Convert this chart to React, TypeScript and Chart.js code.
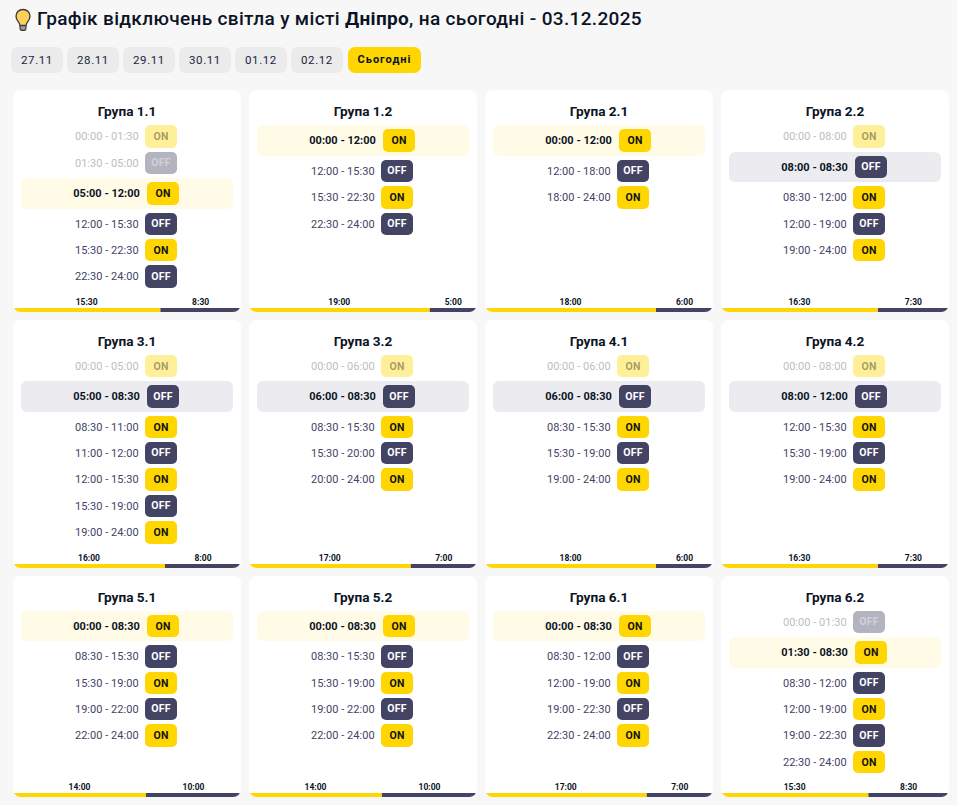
import React, { useEffect, useRef } from "react";
import { Chart, registerables } from "chart.js";
Chart.register(...registerables);

const pageTitleBefore = "Графік відключень світла у місті ";
const pageCity = "Дніпро";
const pageTitleAfter = ", на сьогодні - 03.12.2025";
const dateTabs = ["27.11", "28.11", "29.11", "30.11", "01.12", "02.12"];
const todayTab = "Сьогодні";

const groupNames = ["Група 1.1","Група 1.2","Група 2.1","Група 2.2","Група 3.1","Група 3.2","Група 4.1","Група 4.2","Група 5.1","Група 5.2","Група 6.1","Група 6.2"];
const rowTimes = [
  ["00:00 - 01:30","01:30 - 05:00","05:00 - 12:00","12:00 - 15:30","15:30 - 22:30","22:30 - 24:00"],
  ["00:00 - 12:00","12:00 - 15:30","15:30 - 22:30","22:30 - 24:00"],
  ["00:00 - 12:00","12:00 - 18:00","18:00 - 24:00"],
  ["00:00 - 08:00","08:00 - 08:30","08:30 - 12:00","12:00 - 19:00","19:00 - 24:00"],
  ["00:00 - 05:00","05:00 - 08:30","08:30 - 11:00","11:00 - 12:00","12:00 - 15:30","15:30 - 19:00","19:00 - 24:00"],
  ["00:00 - 06:00","06:00 - 08:30","08:30 - 15:30","15:30 - 20:00","20:00 - 24:00"],
  ["00:00 - 06:00","06:00 - 08:30","08:30 - 15:30","15:30 - 19:00","19:00 - 24:00"],
  ["00:00 - 08:00","08:00 - 12:00","12:00 - 15:30","15:30 - 19:00","19:00 - 24:00"],
  ["00:00 - 08:30","08:30 - 15:30","15:30 - 19:00","19:00 - 22:00","22:00 - 24:00"],
  ["00:00 - 08:30","08:30 - 15:30","15:30 - 19:00","19:00 - 22:00","22:00 - 24:00"],
  ["00:00 - 08:30","08:30 - 12:00","12:00 - 19:00","19:00 - 22:30","22:30 - 24:00"],
  ["00:00 - 01:30","01:30 - 08:30","08:30 - 12:00","12:00 - 19:00","19:00 - 22:30","22:30 - 24:00"],
];
const rowStates = [
  ["ON","OFF","ON","OFF","ON","OFF"],
  ["ON","OFF","ON","OFF"],
  ["ON","OFF","ON"],
  ["ON","OFF","ON","OFF","ON"],
  ["ON","OFF","ON","OFF","ON","OFF","ON"],
  ["ON","OFF","ON","OFF","ON"],
  ["ON","OFF","ON","OFF","ON"],
  ["ON","OFF","ON","OFF","ON"],
  ["ON","OFF","ON","OFF","ON"],
  ["ON","OFF","ON","OFF","ON"],
  ["ON","OFF","ON","OFF","ON"],
  ["OFF","ON","OFF","ON","OFF","ON"],
];
const currentRow = [2, 0, 0, 1, 1, 1, 1, 1, 0, 0, 0, 1];
const onTotals = ["15:30","19:00","18:00","16:30","16:00","17:00","18:00","16:30","14:00","14:00","17:00","15:30"];
const offTotals = ["8:30","5:00","6:00","7:30","8:00","7:00","6:00","7:30","10:00","10:00","7:00","8:30"];

const FONT = "Roboto";
const YELLOW = "#FFD600";
const NAVY = "#434364";
const INK = "#0B1426";
const CARD_W = 228;
const ROW_H = 22.4;
const hours = (s: string) => { const [h, m] = s.split(":").map(Number); return h + m / 60; };

function opaque(canvas: HTMLCanvasElement) { canvas.getContext("2d", { alpha: false }); }
const whiteBg = { id: "whiteBg", beforeDraw(c: any) { const x = c.ctx; x.save(); x.fillStyle = "#fff"; x.fillRect(0, 0, c.width, c.height); x.restore(); } };

function text(ctx: any, s: string, x: number, y: number, font: string, color: string, align: string, spacing: string, alpha = 1) {
  ctx.save();
  ctx.font = font; ctx.fillStyle = color; ctx.textAlign = align; ctx.textBaseline = "middle";
  ctx.letterSpacing = spacing; ctx.globalAlpha = alpha;
  ctx.fillText(s, x, y);
  ctx.restore();
}

function Card({ index, left, top, height, startY }: { index: number; left: number; top: number; height: number; startY: number }) {
  const rowsRef = useRef<HTMLCanvasElement>(null);
  const footRef = useRef<HTMLCanvasElement>(null);
  useEffect(() => {
    const times = rowTimes[index], states = rowStates[index], cur = currentRow[index];
    const pills: any[] = [], bands: any[] = [], pillColors: string[] = [], bandColors: string[] = [];
    let y = startY;
    times.forEach((_, i) => {
      const isCur = i === cur;
      const on = states[i] === "ON";
      const past = i < cur;
      if (isCur) {
        bands.push({ x: CARD_W / 2, y: [Math.round(y), Math.round(y + ROW_H + 8)] });
        bandColors.push(on ? "#FFFBE6" : "#ECECF0");
        y += 4;
      }
      pills.push({ x: isCur ? 150 : 148, y: [Math.round(y), Math.round(y + ROW_H)] });
      const a = past ? 0.4 : 1;
      pillColors.push(on ? `rgba(255,214,0,${a})` : `rgba(67,67,100,${a})`);
      y += ROW_H + (isCur ? 4 : 0) + 4;
    });
    const rowLabels = {
      id: "rowLabels",
      afterDatasetsDraw(c: any) {
        const ctx = c.ctx;
        text(ctx, groupNames[index], CARD_W / 2, 22.5, `700 13.6px ${FONT}`, INK, "center", "0px");
        const meta = c.getDatasetMeta(1);
        times.forEach((t, i) => {
          const el = meta.data[i];
          const cy = (el.y + el.base) / 2;
          const isCur = i === cur, past = i < cur, on = states[i] === "ON";
          const a = past ? 0.4 : 1;
          if (isCur) text(ctx, t, el.x - 23.2, cy + 1, `700 11px ${FONT}`, INK, "right", "0px");
          else if (past) text(ctx, t, el.x - 22.4, cy + 1, `400 11px ${FONT}`, "#BDBDC0", "right", "0.03px");
          else text(ctx, t, el.x - 22.4, cy + 1, `400 11px ${FONT}`, NAVY, "right", "0.03px");
          text(ctx, states[i], el.x, cy + (on ? 1 : 0.5), `700 10.5px ${FONT}`, on ? "#111" : "#fff", "center", "0.2px", a);
        });
      },
    };
    opaque(rowsRef.current!);
    const rows = new Chart(rowsRef.current!, {
      type: "bar",
      data: {
        datasets: [
          { data: bands, backgroundColor: bandColors, barThickness: 212, borderRadius: 6, borderSkipped: false, inflateAmount: 0, grouped: false, order: 2 },
          { data: pills, backgroundColor: pillColors, barThickness: 32, borderRadius: 5, borderSkipped: false, inflateAmount: 0, grouped: false, order: 1 },
        ] as any,
      },
      options: {
        responsive: false, animation: false, devicePixelRatio: 1,
        layout: { padding: 0 },
        plugins: { legend: { display: false }, tooltip: { enabled: false }, title: { display: false } },
        scales: {
          x: { type: "linear", display: false, min: 0, max: CARD_W, offset: false },
          y: { type: "linear", display: false, min: 0, max: height - 20, reverse: true },
        },
      } as any,
      plugins: [whiteBg, rowLabels] as any,
    });
    const footLabels = {
      id: "footLabels",
      afterDatasetsDraw(c: any) {
        const on = c.getDatasetMeta(0).data[0], off = c.getDatasetMeta(1).data[0];
        const font = `700 8.5px ${FONT}`;
        text(c.ctx, onTotals[index], (on.x + on.base) / 2, 11.3, font, INK, "center", "0px");
        text(c.ctx, offTotals[index], (off.x + off.base) / 2, 11.3, font, INK, "center", "0px");
      },
    };
    opaque(footRef.current!);
    const foot = new Chart(footRef.current!, {
      type: "bar",
      data: {
        labels: [groupNames[index]],
        datasets: [
          { label: "ON", data: [hours(onTotals[index])], backgroundColor: YELLOW, barThickness: 4, inflateAmount: 0 },
          { label: "OFF", data: [hours(offTotals[index])], backgroundColor: NAVY, barThickness: 4, inflateAmount: 0 },
        ],
      },
      options: {
        indexAxis: "y", responsive: false, animation: false, devicePixelRatio: 1,
        layout: { padding: { top: 16 } },
        plugins: { legend: { display: false }, tooltip: { enabled: false } },
        scales: {
          x: { stacked: true, display: false, min: 0, max: 24 },
          y: { stacked: true, display: false },
        },
      } as any,
      plugins: [whiteBg, footLabels] as any,
    });
    return () => { rows.destroy(); foot.destroy(); };
  }, [index, height, startY]);
  return (
    <div style={{ position: "absolute", left, top, width: CARD_W, height, background: "#fff", borderRadius: 8, overflow: "hidden" }}>
      <canvas ref={rowsRef} width={CARD_W} height={height - 20} style={{ position: "absolute", left: 0, top: 0, display: "block" }} />
      <canvas ref={footRef} width={CARD_W} height={20} style={{ position: "absolute", left: 0, top: height - 20, display: "block" }} />
    </div>
  );
}

const cardLefts = [13, 249, 485, 721];
const cardTops = [90, 320, 576];
const cardHeights = [222, 248, 221];
const rowStarts = [35.3, 34.8, 34.8];

function Bulb() {
  return (
    <svg aria-label="💡" width="20" height="24" viewBox="0 0 20 24" style={{ position: "absolute", left: 12.5, top: 8 }}>
      <path d="M10 1.5C5.6 1.5 3 4.7 3 8.3c0 2.7 1.4 4.3 2.6 5.9.8 1.1 1.2 2 1.3 3.3h6.2c.1-1.3.5-2.2 1.3-3.3C15.6 12.6 17 11 17 8.3c0-3.6-2.6-6.8-7-6.8z" fill="#FFCF5C" stroke="#3A3A3A" strokeWidth="1.3" />
      <path d="M7 17.8h6v2.6c0 1-1 2-3 2s-3-1-3-2z" fill="#9A9AA2" stroke="#3A3A3A" strokeWidth="1.1" />
    </svg>
  );
}

export default function App() {
  const tabStyle: React.CSSProperties = { position: "absolute", top: 47, height: 26, lineHeight: "26px", textAlign: "center", borderRadius: 7, fontSize: 11.5, letterSpacing: 0.6, color: "#1A2540" };
  return (
    <div style={{ position: "fixed", left: 0, top: 0, width: 957, height: 805, background: "#F7F7F7", overflow: "hidden", fontFamily: FONT, color: INK }}>
      <Bulb />
      <div style={{ position: "absolute", left: 37, top: 5, height: 28, lineHeight: "28px", fontSize: 19, fontWeight: 500, letterSpacing: 0.34, whiteSpace: "nowrap" }}>
        <span>{pageTitleBefore}</span><span style={{ fontWeight: 700 }}>{pageCity}</span><span>{pageTitleAfter}</span>
      </div>
      {dateTabs.map((t, i) => (
        <div key={t} style={{ ...tabStyle, left: 11 + 56 * i, width: 52, background: "#EBEBEB" }}>{t}</div>
      ))}
      <div style={{ ...tabStyle, left: 348, width: 73, background: YELLOW, fontWeight: 700, fontSize: 11, letterSpacing: 1, color: INK }}>{todayTab}</div>
      {groupNames.map((_, i) => {
        const r = Math.floor(i / 4);
        return <Card key={i} index={i} left={cardLefts[i % 4]} top={cardTops[r]} height={cardHeights[r]} startY={rowStarts[r]} />;
      })}
    </div>
  );
}
